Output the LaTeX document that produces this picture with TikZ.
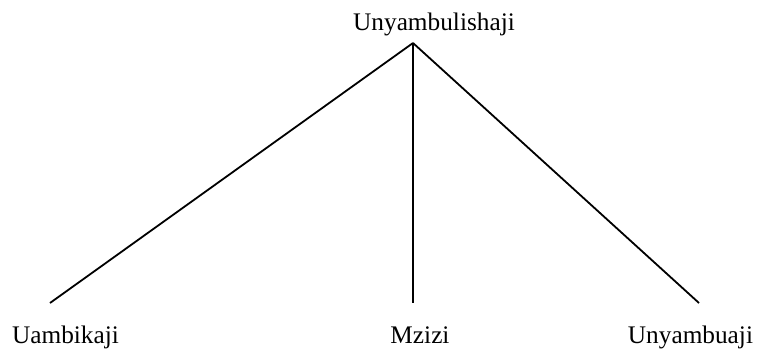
\documentclass[tikz,border=0pt]{standalone}
\usepackage{fontspec}
\setmainfont{Liberation Serif}
\begin{document}
\begin{tikzpicture}[x=0.5pt,y=-0.5pt,
  lbl/.style={anchor=base,inner sep=0pt,font=\fontsize{12.65}{15}\selectfont},
  branch/.style={draw=black,line width=0.9pt}]
\useasboundingbox (0,0) rectangle (757,349);
\node[lbl] (top) at (434,30) {Unyambulishaji};
\node[lbl] (left) at (65.5,343) {Uambikaji};
\node[lbl] (mid) at (420,343) {Mzizi};
\node[lbl] (right) at (690.5,343) {Unyambuaji};
\coordinate (apex) at (413,43);
\coordinate (endL) at (50,303);
\coordinate (endM) at (413,303);
\coordinate (endR) at (699,303);
\draw[branch] (apex) -- (endL);
\draw[branch] (apex) -- (endM);
\draw[branch] (apex) -- (endR);
\end{tikzpicture}
\end{document}
